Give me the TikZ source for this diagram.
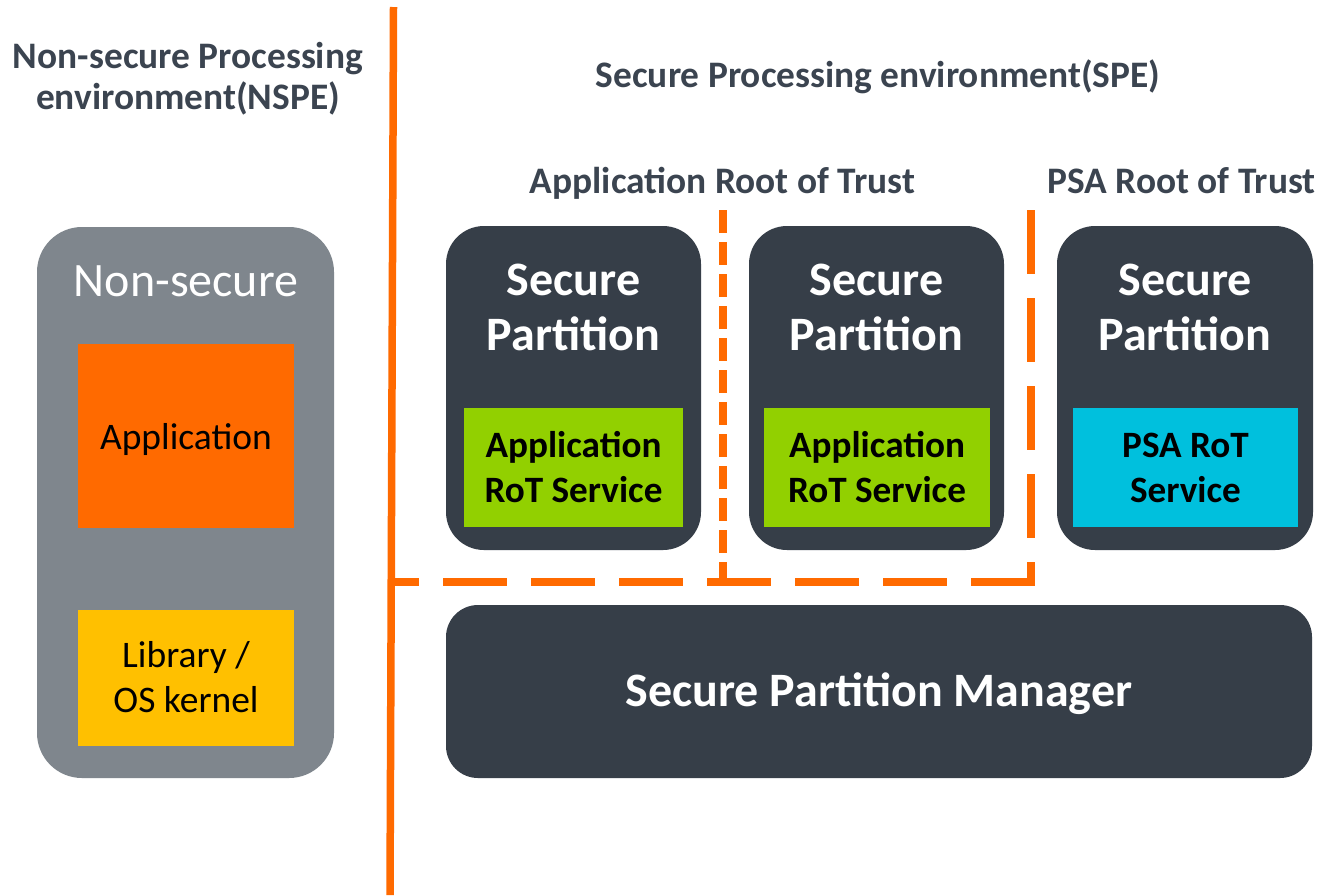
\documentclass[tikz,border=0pt]{standalone}
\usepackage{fontspec}
\setmainfont{Carlito}
\definecolor{darkbox}{HTML}{363E48}
\definecolor{graybox}{HTML}{7F868D}
\definecolor{appgreen}{HTML}{92D000}
\definecolor{psacyan}{HTML}{00C0DD}
\definecolor{libyellow}{HTML}{FFC000}
\definecolor{orng}{HTML}{FF6A00}
\definecolor{hdrc}{HTML}{3B4450}
\tikzset{
  hdr/.style={font=\fontsize{37.4}{41}\selectfont\bfseries, text=hdrc, anchor=base, inner sep=0pt},
  bigw/.style={font=\fontsize{48}{56}\selectfont\bfseries, text=white, anchor=base, inner sep=0pt},
  titlew/.style={font=\fontsize{48}{56}\selectfont, text=white, anchor=base, inner sep=0pt},
  svc/.style={font=\fontsize{37.2}{44}\selectfont\bfseries, text=black, anchor=base, inner sep=0pt},
  plain/.style={font=\fontsize{37.5}{43}\selectfont, text=black, anchor=base, inner sep=0pt},
  partbox/.style={fill=darkbox, rounded corners=38pt, minimum width=255pt, minimum height=324pt, inner sep=0pt, outer sep=0pt},
  inbox/.style={minimum width=#1, minimum height=119pt, inner sep=0pt, outer sep=0pt},
  oline/.style={draw=orng, line width=7.5pt},
  longdash/.style={dash pattern=on 64pt off 24pt},
  shortdash/.style={dash pattern=on 23pt off 9pt}
}
\begin{document}
\begin{tikzpicture}[x=1pt,y=-1pt]
\fill[white] (0,0) rectangle (1321,895);
\useasboundingbox (0,0) rectangle (1321,895);

% separators
\coordinate (mtop) at (393.5,7);
\coordinate (mbot) at (390,895);
\draw[oline] (mtop) -- (mbot);
\coordinate (hR) at (1034.75,582);
\coordinate (hL) at (390,582);
\draw[oline, longdash] (hR) -- (hL);
\coordinate (rT) at (1031,210);
\coordinate (rB) at (1031,585.75);
\draw[oline, longdash] (rT) -- (rB);
\coordinate (mT) at (723,210);
\coordinate (mB) at (723,582);
\draw[oline, shortdash] (mT) -- (mB);

% headers
\node[hdr] (nspe1) at (188,68) {Non-secure Processing};
\node[hdr] (nspe2) at (188,109) {environment(NSPE)};
\node[hdr] (spe) at (878,87) {Secure Processing environment(SPE)};
\node[hdr] (artrust) at (722.5,193) {Application Root of Trust};
\node[hdr] (psatrust) at (1181.5,193) {PSA Root of Trust};

% non-secure side
\node[fill=graybox, rounded corners=45pt, minimum width=297pt, minimum height=551pt, inner sep=0pt] (ns) at (185.5,502.5) {};
\node[titlew] (nstitle) at (186,296) {Non-secure};
\node[fill=orng, minimum width=216pt, minimum height=184pt, inner sep=0pt] (app) at (186,435.5) {};
\node[plain] (apptxt) at (186,449) {Application};
\node[fill=libyellow, minimum width=216pt, minimum height=136pt, inner sep=0pt] (lib) at (186,678) {};
\node[plain] (lib1) at (186,667) {Library /};
\node[plain] (lib2) at (186,712) {OS kernel};

% secure partitions
\node[partbox] (sp1) at (573.5,388) {};
\node[bigw] (sp1a) at (573.5,295) {Secure};
\node[bigw] (sp1b) at (573.5,350) {Partition};
\node[inbox=219pt, fill=appgreen] (s1) at (573.5,467.5) {};
\node[svc] (s1a) at (573.5,457) {Application};
\node[svc] (s1b) at (573.5,502) {RoT Service};

\node[partbox] (sp2) at (876.5,388) {};
\node[bigw] (sp2a) at (876.5,295) {Secure};
\node[bigw] (sp2b) at (876.5,350) {Partition};
\node[inbox=226pt, fill=appgreen] (s2) at (877,467.5) {};
\node[svc] (s2a) at (877,457) {Application};
\node[svc] (s2b) at (877,502) {RoT Service};

\node[partbox, minimum width=256pt] (sp3) at (1185,388) {};
\node[bigw] (sp3a) at (1185,295) {Secure};
\node[bigw] (sp3b) at (1185,350) {Partition};
\node[inbox=225pt, fill=psacyan] (s3) at (1185.5,467.5) {};
\node[svc] (s3a) at (1185.5,457) {PSA RoT};
\node[svc] (s3b) at (1185.5,502) {Service};

% manager
\node[fill=darkbox, rounded corners=32pt, minimum width=866pt, minimum height=173pt, inner sep=0pt] (spm) at (879,691.5) {};
\node[bigw] (spmtxt) at (879,706) {Secure Partition Manager};
\end{tikzpicture}
\end{document}
